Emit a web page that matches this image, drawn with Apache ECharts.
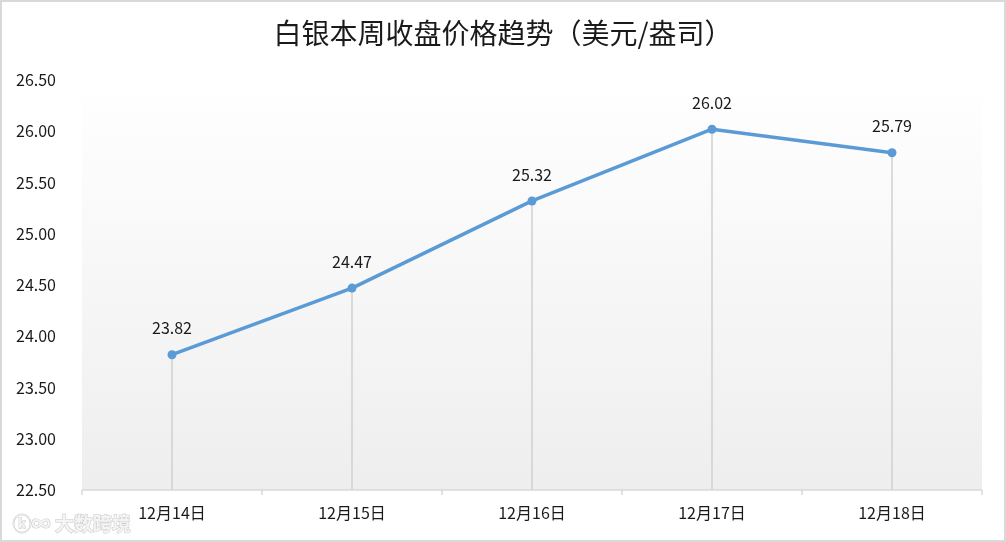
<!DOCTYPE html>
<html><head><meta charset="utf-8">
<script src="https://cdn.jsdelivr.net/npm/echarts@6/dist/echarts.min.js"></script>
<style>html,body{margin:0;padding:0;background:#fff}#c{width:1006px;height:542px;box-sizing:border-box;border:2px solid #d9d9d9}</style>
</head><body><div id="c"></div>
<script>
const categories = ['12月14日','12月15日','12月16日','12月17日','12月18日'];
const prices = [23.82, 24.47, 25.32, 26.02, 25.79];
const yMin = 22.5, yMax = 26.5, yStep = 0.5;

const chart = echarts.init(document.getElementById('c'));
chart.setOption({
  animation: false,
  title: {
    text: '白银本周收盘价格趋势（美元/盎司）',
    left: 'center', top: 12,
    textStyle: {fontFamily: 'Noto Sans CJK SC', fontSize: 28, fontWeight: 'normal', color: '#1a1a1a'}
  },
  grid: {
    left: 80, right: 22, top: 78, bottom: 50, show: true, borderWidth: 0,
    backgroundColor: {type: 'linear', x: 0, y: 0, x2: 0, y2: 1,
      colorStops: [{offset: 0, color: '#ffffff'}, {offset: 1, color: '#eeeeee'}]}
  },
  xAxis: {
    type: 'category', data: categories, boundaryGap: true,
    axisLine: {lineStyle: {color: '#d9d9d9', width: 1.5}},
    axisTick: {show: true, length: 5, lineStyle: {color: '#d9d9d9', width: 1.5}},
    axisLabel: {fontFamily: 'Noto Sans CJK SC', fontSize: 16, color: '#1a1a1a', margin: 15}
  },
  yAxis: {
    type: 'value', min: yMin, max: yMax, interval: yStep,
    axisLine: {show: false}, axisTick: {show: false}, splitLine: {show: false},
    axisLabel: {fontFamily: 'Noto Sans CJK SC', fontSize: 16, color: '#1a1a1a', align: 'left', margin: 66,
      formatter: v => v.toFixed(2)}
  },
  series: [
    {type: 'bar', data: prices, barWidth: 1.5, itemStyle: {color: '#d0d0d0'}, silent: true, z: 1},
    {type: 'line', data: prices, z: 3, symbol: 'circle', symbolSize: 9,
      lineStyle: {color: '#5b9bd5', width: 3.5}, itemStyle: {color: '#5b9bd5'},
      label: {show: true, position: 'top', distance: 14, fontFamily: 'Noto Sans CJK SC', fontSize: 16, color: '#1a1a1a',
        formatter: p => p.value.toFixed(2)}}
  ],
  graphic: [{type: 'text', left: 10, bottom: 6,
    style: {text: 'ⓚ∞ 大数跨境', fontFamily: 'Noto Sans CJK SC', fontSize: 19, fontWeight: 'bold',
      fill: '#f4f4f4', stroke: '#c8c8c8', lineWidth: 1}}]
});
</script></body></html>
